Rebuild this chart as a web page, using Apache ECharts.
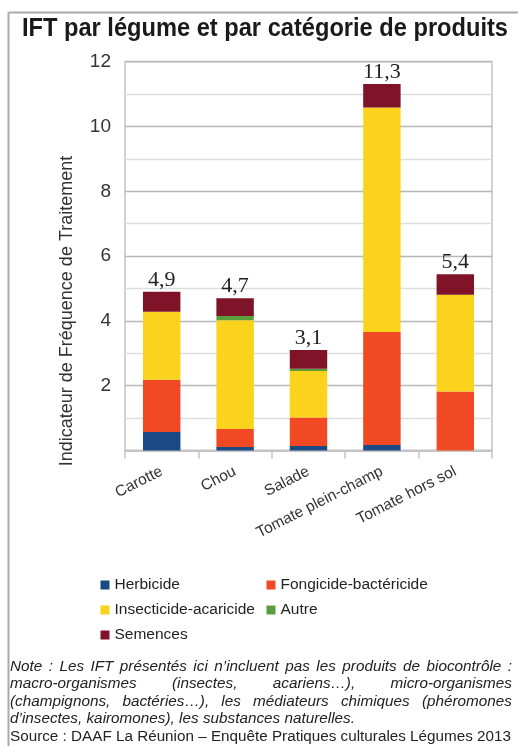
<!DOCTYPE html>
<html>
<head>
<meta charset="utf-8">
<script src="https://cdn.jsdelivr.net/npm/echarts@6/dist/echarts.min.js"></script>
<style>
html,body{margin:0;padding:0;background:#fff;}
#chart{width:518px;height:746px;}
</style>
</head>
<body>
<div id="chart"></div>
<script>
const categories = ['Carotte', 'Chou', 'Salade', 'Tomate plein-champ', 'Tomate hors sol'];
const herbicide = [0.57, 0.11, 0.14, 0.17, 0];
const fongicide = [1.61, 0.55, 0.88, 3.49, 1.82];
const insecticide = [2.10, 3.36, 1.43, 6.93, 2.99];
const autre = [0, 0.13, 0.07, 0, 0];
const semences = [0.62, 0.55, 0.58, 0.72, 0.63];
const totals = ['4,9', '4,7', '3,1', '11,3', '5,4'];
const seriesNames = ['Herbicide', 'Fongicide-bactéricide', 'Insecticide-acaricide', 'Autre', 'Semences'];
const colors = ['#1a4a86', '#f04923', '#fcd31c', '#5a9e3e', '#7f1327'];

const titleText = 'IFT par légume et par catégorie de produits';
const yName = 'Indicateur de Fréquence de Traitement';
const noteJustified = [
  'Note : Les IFT présentés ici n’incluent pas les produits de biocontrôle :',
  'macro-organismes (insectes, acariens…), micro-organismes',
  '(champignons, bactéries…), les médiateurs chimiques (phéromones'
];
const noteLast = 'd’insectes, kairomones), les substances naturelles.';
const sourceText = 'Source : DAAF La Réunion – Enquête Pratiques culturales Légumes 2013';

const ctx = document.createElement('canvas').getContext('2d');
function tw(t, f) { ctx.font = f; return ctx.measureText(t).width; }

const FAM = '"Liberation Sans", Arial, sans-serif';
const titleFont = 'bold 26px ' + FAM;
const titleScale = 486 / tw(titleText, titleFont);
const noteFont = 'italic 14px ' + FAM;
const noteScale = 345 / tw(noteLast, noteFont);
const srcFont = '14px ' + FAM;
const srcScale = 501 / tw(sourceText, srcFont);

const graphics = [
  {type: 'line', shape: {x1: 8.5, y1: 12.5, x2: 518, y2: 12.5}, style: {stroke: '#aaaaaa', lineWidth: 2}},
  {type: 'line', shape: {x1: 8.5, y1: 12.5, x2: 8.5, y2: 746}, style: {stroke: '#aaaaaa', lineWidth: 2}},
  {type: 'text', x: 22, y: 29, scaleX: titleScale, style: {text: titleText, font: titleFont, fill: '#1a1a1a', textAlign: 'left', textVerticalAlign: 'middle'}},
  {type: 'text', x: 67, y: 311, rotation: Math.PI / 2, style: {text: yName, font: '18px ' + FAM, fill: '#333', textAlign: 'center', textVerticalAlign: 'middle'}}
];

const lineY = [667, 684.5, 702, 719.5, 737];
const x0 = 10, x1 = 512;
noteJustified.forEach((line, li) => {
  const words = line.split(' ');
  const ws = words.map(w => tw(w, noteFont) * noteScale);
  const sum = ws.reduce((a, b) => a + b, 0);
  const gap = (x1 - x0 - sum) / (words.length - 1);
  let x = x0;
  words.forEach((w, i) => {
    graphics.push({type: 'text', x: x, y: lineY[li], scaleX: noteScale, style: {text: w, font: noteFont, fill: '#222', textAlign: 'left', textVerticalAlign: 'middle'}});
    x += ws[i] + gap;
  });
});
graphics.push({type: 'text', x: x0, y: lineY[3], scaleX: noteScale, style: {text: noteLast, font: noteFont, fill: '#222', textAlign: 'left', textVerticalAlign: 'middle'}});
graphics.push({type: 'text', x: x0, y: lineY[4], scaleX: srcScale, style: {text: sourceText, font: srcFont, fill: '#222', textAlign: 'left', textVerticalAlign: 'middle'}});

const dataArrays = [herbicide, fongicide, insecticide, autre, semences];
const series = seriesNames.map((name, i) => {
  const s = {
    name: name,
    type: 'bar',
    stack: 'total',
    barWidth: '51%',
    data: dataArrays[i],
    itemStyle: {color: colors[i]}
  };
  if (i === 4) {
    s.label = {
      show: true, position: 'top', distance: 1,
      formatter: p => totals[p.dataIndex],
      fontFamily: '"Liberation Serif", serif', fontSize: 22, color: '#222'
    };
  }
  return s;
});

const legendCommon = {
  orient: 'vertical', icon: 'rect', itemWidth: 9, itemHeight: 9, itemGap: 9, padding: 0,
  selectedMode: false,
  textStyle: {fontSize: 15.5, color: '#222', fontFamily: FAM, lineHeight: 16}
};

const chart = echarts.init(document.getElementById('chart'), null, {renderer: 'canvas'});
chart.setOption({
  animation: false,
  color: colors,
  grid: {left: 125, right: 26, top: 61.7, bottom: 295.5, show: true, borderColor: '#c4c4c4', borderWidth: 1.5},
  legend: [
    Object.assign({data: ['Herbicide', 'Insecticide-acaricide', 'Semences'], left: 100.5, top: 577}, legendCommon),
    Object.assign({data: ['Fongicide-bactéricide', 'Autre'], left: 266.5, top: 577}, legendCommon)
  ],
  xAxis: {
    type: 'category',
    data: categories,
    axisLine: {lineStyle: {color: '#c4c4c4', width: 2}},
    axisTick: {show: true, length: 8, interval: 0, lineStyle: {color: '#c4c4c4', width: 1.5}},
    axisLabel: {interval: 0, rotate: 27, margin: 20, fontSize: 15.5, color: '#333', fontFamily: FAM}
  },
  yAxis: {
    type: 'value', min: 0, max: 12, interval: 2,
    axisLine: {show: false},
    axisTick: {show: false},
    axisLabel: {fontSize: 19, color: '#333', margin: 14, fontFamily: FAM, showMinLabel: false},
    splitLine: {lineStyle: {color: '#b8b8b8', width: 1.3}},
    minorTick: {show: false, splitNumber: 2},
    minorSplitLine: {show: true, lineStyle: {color: '#dedede', width: 1.3}}
  },
  series: series,
  graphic: graphics
});
</script>
</body>
</html>
